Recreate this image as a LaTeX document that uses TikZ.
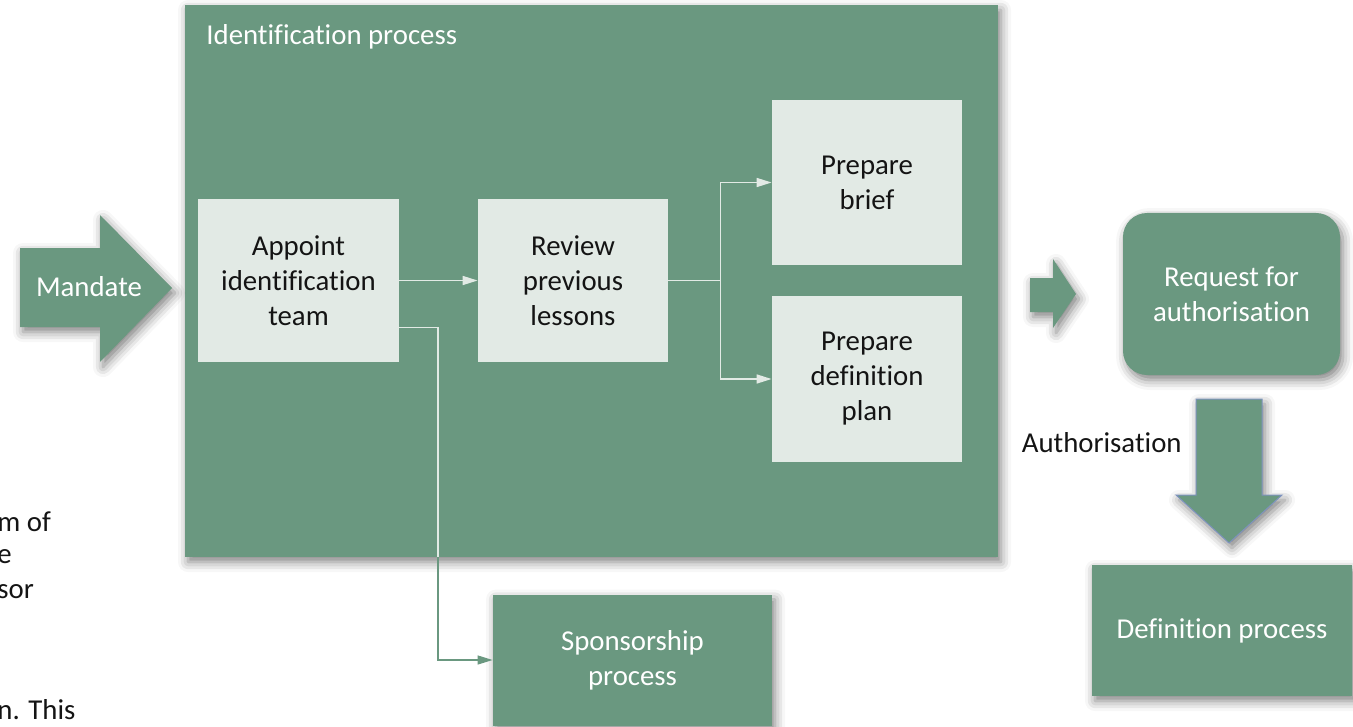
\documentclass[tikz,border=0pt]{standalone}
\usepackage{fontspec}
\setmainfont{Carlito}[Ligatures=NoCommon]
\usetikzlibrary{arrows.meta,shadows.blur,calc}
\definecolor{greencolor}{RGB}{106,152,128}
\definecolor{palecolor}{RGB}{226,234,229}
\definecolor{edgecolor}{RGB}{126,147,190}
\definecolor{inkcolor}{RGB}{20,20,20}
\colorlet{Pcolor}{greencolor}
\colorlet{Lcolor}{palecolor}

\begin{document}
\begin{tikzpicture}[x=0.5pt,y=-0.5pt,font=\fontsize{14.4}{17.5}\selectfont,
  boxshadow/.style={blur shadow={shadow xshift=1.5pt,shadow yshift=-2.5pt,shadow blur radius=5pt,shadow opacity=50}}]

\useasboundingbox (0,0) rectangle (1353,727);

% green process boxes
\begin{scope}[every node/.style={fill=Pcolor,text=white,inner sep=0pt,align=center,boxshadow}]
\node[minimum width=406.5pt,minimum height=276pt] (ident) at (591.5,281) {};
\node[minimum width=139.5pt,minimum height=65.5pt] (sponsor) at (632.5,660) {Sponsorship\\process};
\node[minimum width=108.5pt,minimum height=81pt,rounded corners=12pt] (request) at (1231.5,294) {Request for\\authorisation};
\node[minimum width=130pt,minimum height=65.5pt] (defproc) at (1222,630.5) {Definition process};
\end{scope}

\node[anchor=west,text=white,inner sep=0pt] (identlabel) at (206,37) {Identification process};

% steps inside the identification box
\begin{scope}[every node/.style={fill=Lcolor,text=inkcolor,inner sep=0pt,align=center}]
\node[minimum width=100.5pt,minimum height=81.5pt] (appoint) at (298.5,280.5) {Appoint\\identification\\team};
\node[minimum width=95pt,minimum height=81.5pt] (review) at (573,280.5) {Review\\previous\\lessons};
\node[minimum width=95pt,minimum height=82.5pt] (brief) at (867,182.5) {Prepare\\brief};
\node[minimum width=95pt,minimum height=83pt] (defplan) at (867,379) {Prepare\\definition\\plan};
\end{scope}

\begin{scope}[Lcolor,line width=0.8pt,-{Triangle[length=7.5pt,width=4.5pt]}]
  \draw (appoint) -- (review);
  \draw (review.east) -- ++(52,0) |- (brief.west);
  \draw (review.east) -- ++(52,0) |- (defplan.west);
\end{scope}

\coordinate (exit) at (438,557);
\draw[Lcolor,line width=0.6pt] ($(appoint.east)+(0,47)$) -| (exit);
\draw[Pcolor,line width=0.6pt,-{Triangle[length=7.5pt,width=4.5pt]}] (exit) |- (sponsor.west);

% block arrows
\fill[Pcolor,boxshadow] (20,248) -- (100,248) -- (100,215) -- (172,288) -- (100,362) -- (100,327) -- (20,327) -- cycle;
\node[text=white] (mandate) at (89,287) {Mandate};
\fill[Pcolor,boxshadow] (1030,278) -- (1053,278) -- (1053,259) -- (1076,294) -- (1053,328) -- (1053,312) -- (1030,312) -- cycle;
\filldraw[fill=Pcolor,draw=edgecolor,line width=0.5pt,boxshadow] (1196,399) -- (1262,399) -- (1262,495) -- (1282,495) -- (1229,543) -- (1176,495) -- (1196,495) -- cycle;
\node[anchor=east,text=inkcolor,inner sep=0pt] (auth) at (1182,443) {Authorisation};

% text cut off at the left edge
\begin{scope}[every node/.style={anchor=west,text=inkcolor,inner sep=0pt}]
\node (fragA) at (-3,522) {m of};
\node (fragB) at (-3,557) {e};
\node (fragC) at (-3,592) {sor};
\node (fragD) at (-3,710) {n. This};
\end{scope}
\end{tikzpicture}
\end{document}
